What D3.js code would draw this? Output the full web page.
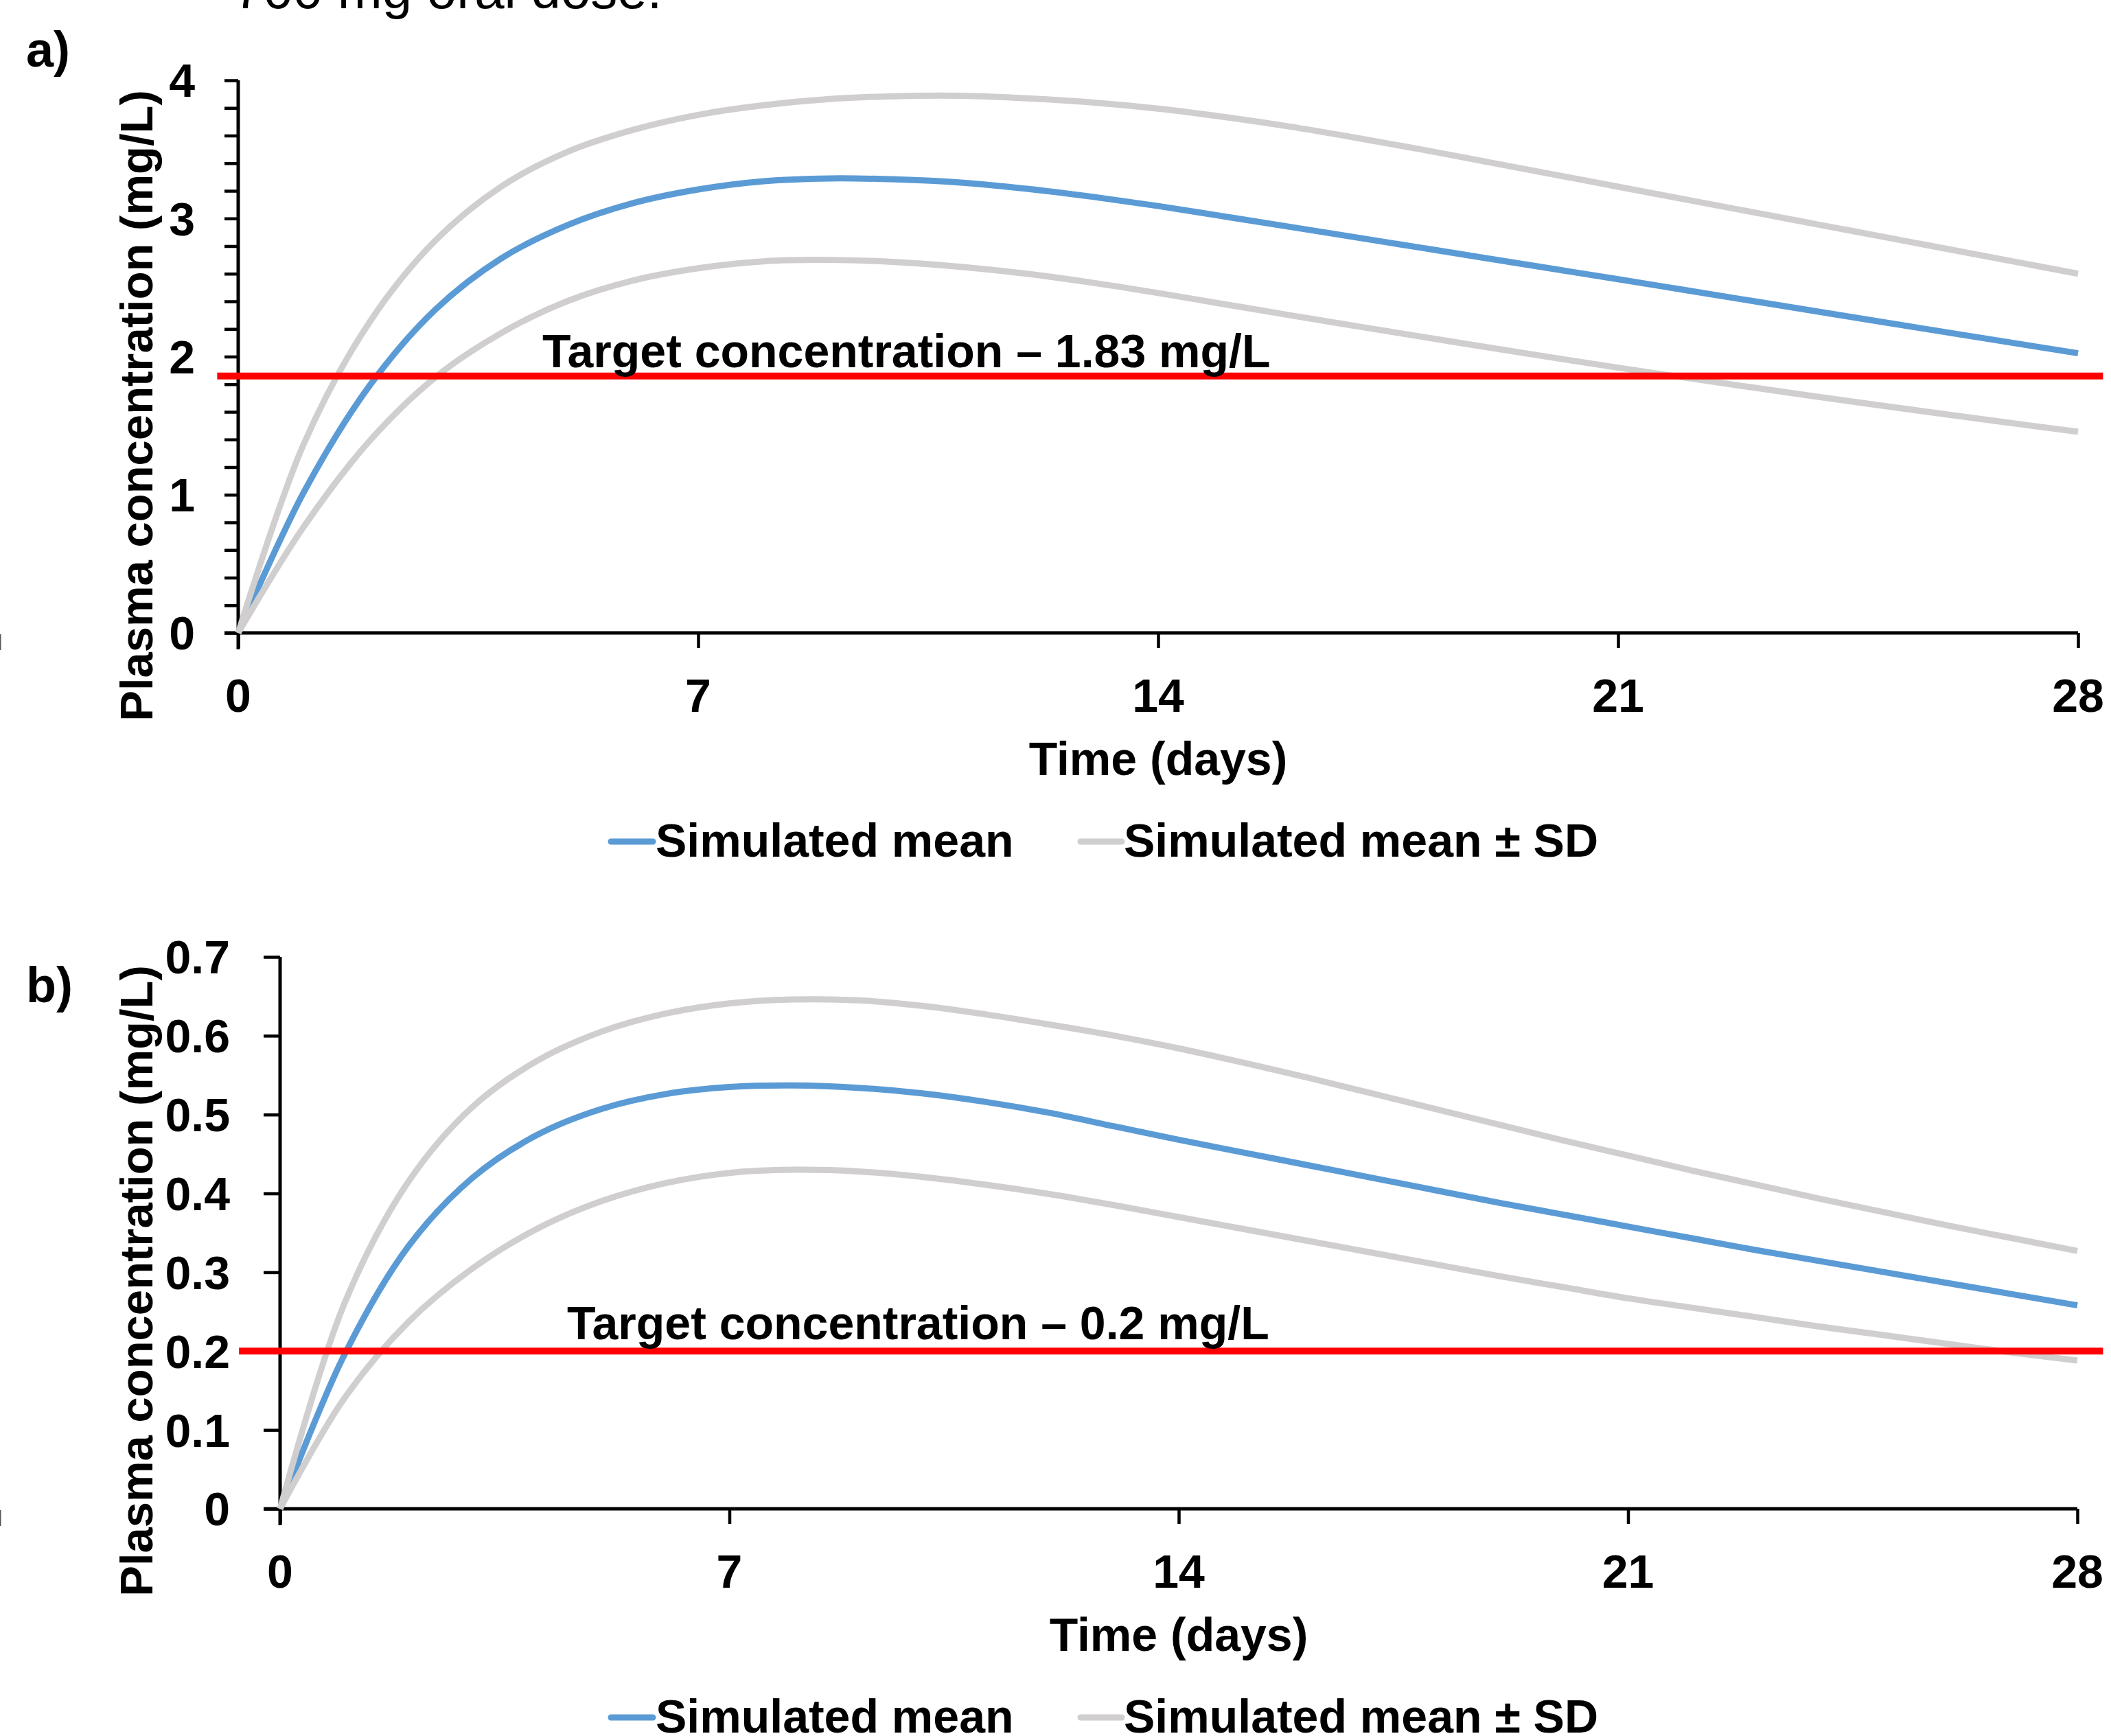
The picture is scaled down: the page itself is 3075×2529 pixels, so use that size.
<!DOCTYPE html>
<html>
<head>
<meta charset="utf-8">
<script src="https://cdn.jsdelivr.net/npm/d3@7"></script>
<style>
  body { margin: 0; background: #fff; }
  svg { display: block; font-family: "Liberation Sans", Arial, sans-serif; }
</style>
</head>
<body>
<svg width="3075" height="2529"></svg>
<script>
// time points (days) shared by every simulated series
var days = [0, 1, 2, 3, 4, 5, 6, 7, 8, 9, 10, 11, 12, 13, 14, 15, 16, 17, 18, 19, 20, 21, 22, 23, 24, 25, 26, 27, 28]

// panel a) series (mg/L)
var meanA  = [0, 1.02, 1.79, 2.34, 2.71, 2.95, 3.11, 3.21, 3.27, 3.29, 3.283, 3.26, 3.215, 3.157, 3.09,
              3.015, 2.94, 2.864, 2.788, 2.712, 2.636, 2.56, 2.483, 2.406, 2.329, 2.252, 2.176, 2.10, 2.024]
var upperA = [0, 1.37, 2.25, 2.84, 3.23, 3.48, 3.64, 3.75, 3.82, 3.865, 3.885, 3.888, 3.87, 3.84, 3.795,
              3.735, 3.665, 3.585, 3.50, 3.41, 3.32, 3.23, 3.14, 3.05, 2.96, 2.87, 2.78, 2.69, 2.60]
var lowerA = [0, 0.77, 1.39, 1.85, 2.17, 2.40, 2.55, 2.64, 2.69, 2.70, 2.685, 2.65, 2.60, 2.535, 2.46,
              2.38, 2.30, 2.222, 2.145, 2.068, 1.993, 1.92, 1.849, 1.78, 1.712, 1.646, 1.581, 1.518, 1.456]

// panel b) series (mg/L)
var meanB  = [0, 0.195, 0.333, 0.42, 0.474, 0.507, 0.526, 0.535, 0.537, 0.534, 0.527, 0.516, 0.502, 0.485, 0.468,
              0.452, 0.436, 0.42, 0.404, 0.388, 0.373, 0.358, 0.343, 0.328, 0.314, 0.30, 0.286, 0.272, 0.258]
var upperB = [0, 0.26, 0.415, 0.51, 0.568, 0.605, 0.628, 0.641, 0.646, 0.645, 0.638, 0.627, 0.614, 0.60, 0.584,
              0.566, 0.547, 0.527, 0.507, 0.487, 0.467, 0.448, 0.429, 0.411, 0.393, 0.376, 0.359, 0.343, 0.327]
var lowerB = [0, 0.14, 0.237, 0.305, 0.355, 0.39, 0.413, 0.426, 0.43, 0.428, 0.421, 0.411, 0.399, 0.385, 0.37,
              0.355, 0.34, 0.325, 0.31, 0.295, 0.281, 0.267, 0.255, 0.243, 0.231, 0.22, 0.209, 0.198, 0.188]

// target lines: level and the day span the red line covers
var targetA = 1.86, targetSpanA = [-0.32, 28.38]
var targetB = 0.2,  targetSpanB = [-0.64, 28.4]

// axis ticks and labels
var xTicks = [0, 7, 14, 21, 28]
var yTicksA = d3.range(0, 21).map(function (i) { return i / 5 })
var yLabelsA = [0, 1, 2, 3, 4]
var yTicksB = [0, 0.1, 0.2, 0.3, 0.4, 0.5, 0.6, 0.7]

var legendNames = ["Simulated mean", "Simulated mean \u00b1 SD"]
var colors = { mean: "#5B9BD5", sd: "#D0CECE", target: "#FF0000" }

var svg = d3.select("svg")
var fs = 68

//white background
svg.append("rect").attr("width", 3075).attr("height", 2529).attr("fill", "#fff")

//caption text cut off at the top of the figure
svg.append("text")
    .attr("x", 340).attr("y", 12)
    .style("font-size", "78px")
    .text("700 mg oral dose.")

//small marks at the left edge
svg.append("rect").attr("x", 0).attr("y", 924).attr("width", 1.5).attr("height", 23).attr("fill", "#555")
svg.append("rect").attr("x", 0).attr("y", 2200).attr("width", 1.5).attr("height", 23).attr("fill", "#555")

function drawPanel(p) {
    var g = svg.append("g")

    var x = d3.scaleLinear().domain([0, 28]).range([p.left, p.right])
    var y = d3.scaleLinear().domain([0, p.yMax]).range([p.bottom, p.top])

    //panel letter
    g.append("text")
        .attr("x", 38).attr("y", p.letterY)
        .style("font-size", "72px").style("font-weight", "bold")
        .text(p.letter)

    //y axis with outward ticks
    var yAxis = g.append("g")
        .attr("transform", "translate(" + p.left + ",0)")
        .call(d3.axisLeft(y).tickValues(p.yTicks).tickSize(p.tick).tickSizeOuter(0).tickFormat(""))
    yAxis.select(".domain").attr("stroke", "#000").attr("stroke-width", 5)
        .attr("d", "M0," + (p.bottom + 24) + "V" + p.top)
    yAxis.selectAll(".tick line").attr("stroke", "#000").attr("stroke-width", 4.5)

    //y tick labels
    g.selectAll(".ylab")
        .data(p.yLabels)
        .enter().append("text")
        .attr("x", p.yLabelRight)
        .attr("y", function (d) { return y(d) })
        .attr("dy", "0.36em")
        .style("text-anchor", "end")
        .style("font-size", fs + "px").style("font-weight", "bold")
        .text(p.yFormat)

    //x axis with downward ticks
    var xAxis = g.append("g")
        .attr("transform", "translate(0," + p.bottom + ")")
        .call(d3.axisBottom(x).tickValues(xTicks).tickSize(22).tickSizeOuter(0).tickFormat(""))
    xAxis.select(".domain").attr("stroke", "#000").attr("stroke-width", 5)
        .attr("d", "M" + (p.left - p.tick) + ",0H" + p.right)
    xAxis.selectAll(".tick line").attr("stroke", "#000").attr("stroke-width", 4.5)

    g.selectAll(".xlab")
        .data(xTicks)
        .enter().append("text")
        .attr("x", function (d) { return x(d) })
        .attr("y", p.bottom + 115)
        .style("text-anchor", "middle")
        .style("font-size", fs + "px").style("font-weight", "bold")
        .text(function (d) { return d })

    //axis titles
    g.append("text")
        .attr("transform", "translate(" + (p.left + p.right) / 2 + "," + (p.bottom + 207) + ")")
        .style("text-anchor", "middle")
        .style("font-size", fs + "px").style("font-weight", "bold")
        .text("Time (days)")
    g.append("text")
        .attr("transform", "translate(222," + p.titleY + ") rotate(-90)")
        .style("text-anchor", "middle")
        .style("font-size", "67px").style("font-weight", "bold")
        .text("Plasma concentration (mg/L)")

    //simulated curves
    var line = d3.line()
        .x(function (d, i) { return x(days[i]) })
        .y(function (d) { return y(d) })
        .curve(d3.curveCatmullRom.alpha(0.5))

    var series = [
        { v: p.mean, c: colors.mean },
        { v: p.upper, c: colors.sd },
        { v: p.lower, c: colors.sd }
    ]
    g.selectAll(".curve")
        .data(series)
        .enter().append("path")
        .attr("d", function (d) { return line(d.v) })
        .attr("fill", "none")
        .attr("stroke", function (d) { return d.c })
        .attr("stroke-width", 9)

    //target concentration line and its label
    g.append("line")
        .attr("x1", x(p.targetSpan[0])).attr("x2", x(p.targetSpan[1]))
        .attr("y1", y(p.target)).attr("y2", y(p.target))
        .attr("stroke", colors.target)
        .attr("stroke-width", 10)
    g.append("text")
        .attr("x", p.targetLabelX)
        .attr("y", y(p.target) - p.targetLabelGap)
        .style("font-size", fs + "px").style("font-weight", "bold")
        .text(p.targetLabel)

    //legend
    var legendX = [[890, 951, 955], [1574, 1634, 1637]]
    var legend = g.selectAll(".legend")
        .data(legendNames)
        .enter().append("g")
    legend.append("line")
        .attr("x1", function (d, i) { return legendX[i][0] })
        .attr("x2", function (d, i) { return legendX[i][1] })
        .attr("y1", p.bottom + 304).attr("y2", p.bottom + 304)
        .attr("stroke", function (d, i) { return i == 0 ? colors.mean : colors.sd })
        .attr("stroke-width", 9)
        .attr("stroke-linecap", "round")
    legend.append("text")
        .attr("x", function (d, i) { return legendX[i][2] })
        .attr("y", p.bottom + 326)
        .style("font-size", fs + "px").style("font-weight", "bold")
        .text(function (d) { return d })
}

drawPanel({
    letter: "a)", letterY: 97,
    left: 347, right: 3027, top: 117, bottom: 922, yMax: 4, tick: 20,
    yTicks: yTicksA, yLabels: yLabelsA, yLabelRight: 284,
    yFormat: function (d) { return d },
    titleY: 591,
    mean: meanA, upper: upperA, lower: lowerA,
    target: targetA, targetSpan: targetSpanA,
    targetLabel: "Target concentration \u2013 1.83 mg/L", targetLabelX: 790, targetLabelGap: 13
})

drawPanel({
    letter: "b)", letterY: 1460,
    left: 408, right: 3026, top: 1394, bottom: 2198, yMax: 0.7, tick: 24,
    yTicks: yTicksB, yLabels: yTicksB, yLabelRight: 335,
    yFormat: function (d) { return d === 0 ? "0" : d3.format(".1f")(d) },
    titleY: 1866,
    mean: meanB, upper: upperB, lower: lowerB,
    target: targetB, targetSpan: targetSpanB,
    targetLabel: "Target concentration \u2013 0.2 mg/L", targetLabelX: 826, targetLabelGap: 17
})
</script>
</body>
</html>
